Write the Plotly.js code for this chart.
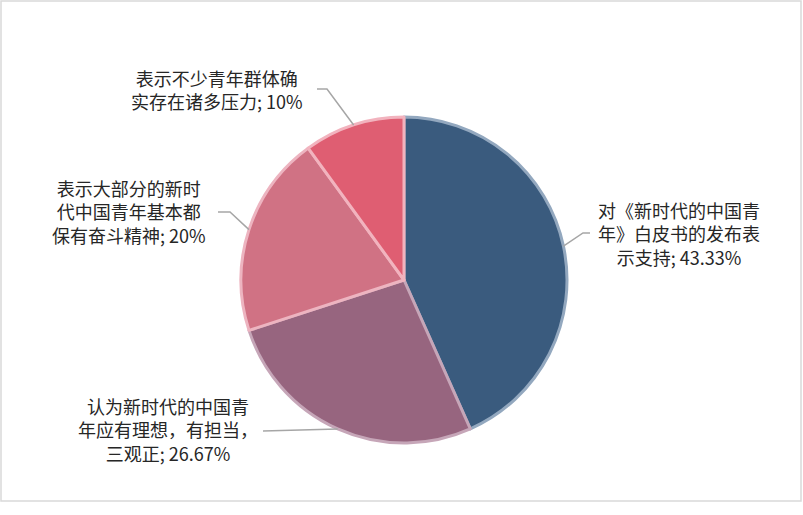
<!DOCTYPE html>
<html>
<head>
<meta charset="utf-8">
<script src="https://cdn.plot.ly/plotly-3.0.1.min.js"></script>
<style>html,body{margin:0;padding:0;background:#fff;}#chart{width:803px;height:515px;}</style>
</head>
<body>
<div id="chart"></div>
<script>
// ---- data ----
var categories = [
  "对《新时代的中国青<br>年》白皮书的发布表<br>示支持",
  "认为新时代的中国青<br>年应有理想，有担当，<br>三观正",
  "表示大部分的新时<br>代中国青年基本都<br>保有奋斗精神",
  "表示不少青年群体确<br>实存在诸多压力"
];
var values = [43.33, 26.67, 20, 10];
var valueLabels = ["43.33%", "26.67%", "20%", "10%"];

// ---- style / layout ----
var W = 803, H = 515;
var fillColors = ["#3A5B7E", "#97657F", "#D07284", "#DF5E72"];
var edgeColors = ["#93A8BF", "#C6A6B8", "#EDB4C0", "#F2B3BE"];
var domX = [241 / W, 567 / W];
var domY = [1 - 443 / H, 1 - 117 / H];
// label text centres (px) and leader-line end/elbow (px)
var labelPos = [[679, 234], [168, 429], [129, 211], [217, 89]];
var leaderEnd = [[590, 233], [263, 431], [218, 212], [317, 89]];
var leaderElbow = [[583, 233], [263, 431], [230, 212], [327, 89]];

var cx = (domX[0] + domX[1]) / 2 * W;
var cy = (1 - (domY[0] + domY[1]) / 2) * H;
var R = Math.min((domX[1] - domX[0]) * W, (domY[1] - domY[0]) * H) / 2;

var total = values.reduce(function (a, b) { return a + b; }, 0);
var shapes = [];
var annotations = [];
var cum = 0;
for (var i = 0; i < values.length; i++) {
  var mid = (cum + values[i] / 2) / total * 2 * Math.PI;
  cum += values[i];
  var px = cx + R * Math.sin(mid);
  var py = cy - R * Math.cos(mid);
  var path = "M" + (px / W) + "," + (1 - py / H) +
             " L" + (leaderElbow[i][0] / W) + "," + (1 - leaderElbow[i][1] / H) +
             " L" + (leaderEnd[i][0] / W) + "," + (1 - leaderEnd[i][1] / H);
  shapes.push({type: "path", xref: "paper", yref: "paper", path: path,
               line: {color: "#A6A6A6", width: 1.5}, layer: "above"});
  annotations.push({
    xref: "paper", yref: "paper",
    x: labelPos[i][0] / W, y: 1 - labelPos[i][1] / H,
    xanchor: "center", yanchor: "middle", align: "center",
    showarrow: false,
    text: categories[i] + "; " + valueLabels[i],
    font: {family: "Microsoft YaHei, 'Noto Sans CJK SC', sans-serif", size: 18, color: "#262626"}
  });
}
shapes.push({type: "rect", xref: "paper", yref: "paper",
             x0: 1 / W, x1: 801 / W, y0: 1 - 501 / H, y1: 1 - 1 / H,
             line: {color: "#D9D9D9", width: 1.5}, layer: "below"});

var trace = {
  type: "pie",
  values: values,
  labels: categories,
  sort: false,
  direction: "clockwise",
  rotation: 0,
  textinfo: "none",
  hoverinfo: "label+percent",
  domain: {x: domX, y: domY},
  marker: {colors: fillColors, line: {color: edgeColors, width: 3}}
};

var layout = {
  width: W, height: H,
  margin: {l: 0, r: 0, t: 0, b: 0},
  paper_bgcolor: "#FFFFFF",
  showlegend: false,
  shapes: shapes,
  annotations: annotations
};

Plotly.newPlot("chart", [trace], layout, {displayModeBar: false, staticPlot: true});
</script>
</body>
</html>
